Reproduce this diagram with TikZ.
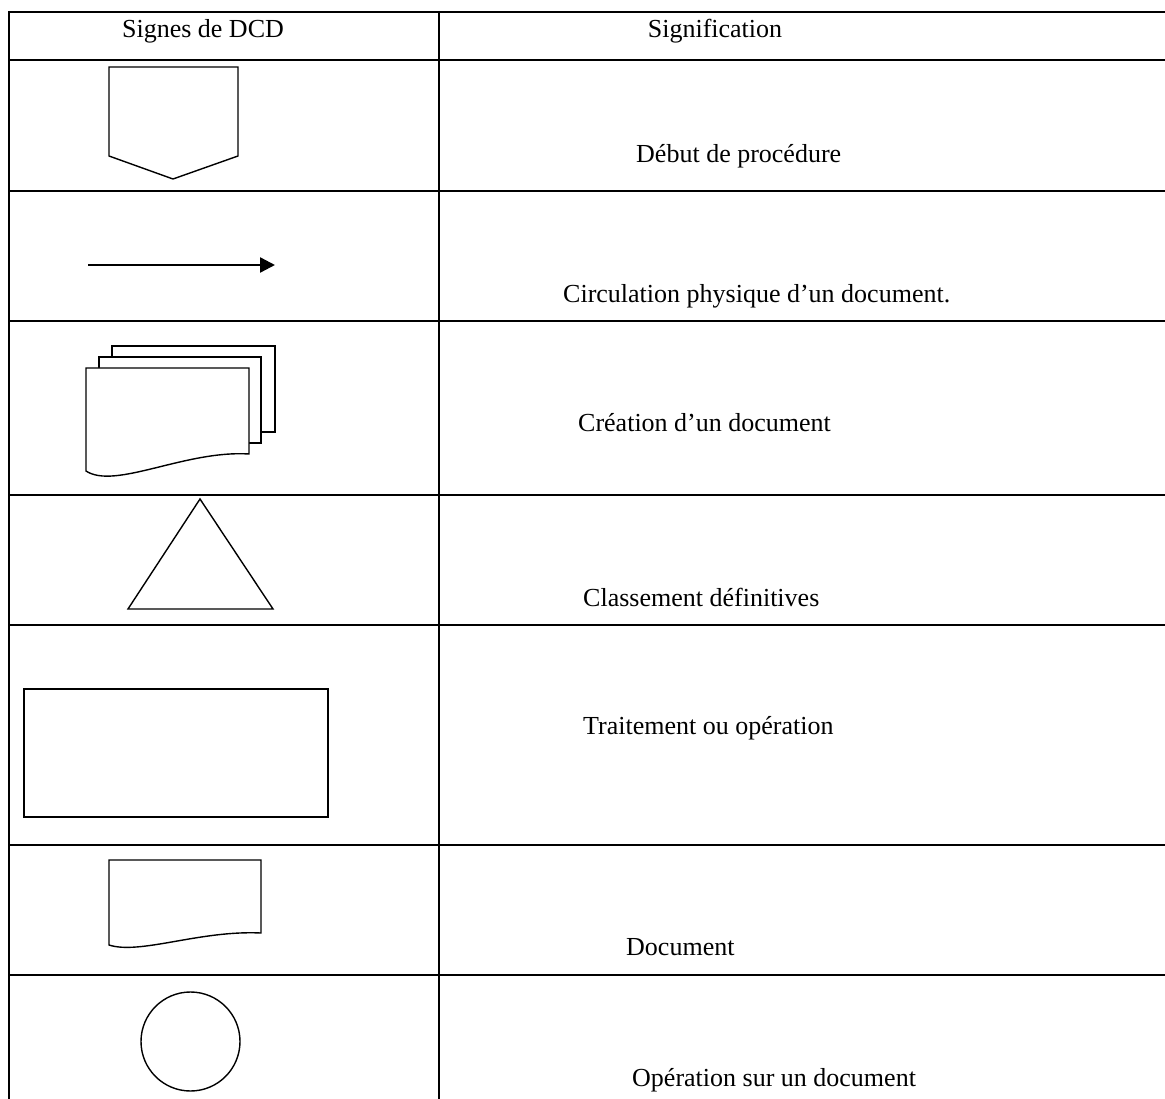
\documentclass[tikz,border=0pt]{standalone}
\usepackage{fontspec}
\setmainfont{Liberation Serif}
\usetikzlibrary{arrows.meta}
\begin{document}
\begin{tikzpicture}[x=1pt,y=-1pt,
  rule/.style={line width=2pt},
  symb/.style={line width=1.4pt, line join=miter},
  label/.style={anchor=west, inner sep=0pt, font=\fontsize{26}{30}\selectfont},
  head/.style={anchor=center, inner sep=0pt, font=\fontsize{26}{30}\selectfont}]
\useasboundingbox (0,0) rectangle (1165,1099);

% table grid (open on the right and at the bottom)
\foreach \yy in {12,60,191,321,495,625,845,975}
  \draw[rule] (8,\yy) -- (1165,\yy);
\draw[rule] (9,11) -- (9,1099);
\draw[rule] (439,11) -- (439,1099);

% header
\node[head] (h1) at (203,31) {Signes de DCD};
\node[head] (h2) at (715,31) {Signification};

% start of procedure
\draw[symb] (109,67) -- (238,67) -- (238,156) -- (173,179) -- (109,156) -- cycle;
\node[label] (t1) at (636,156) {Début de procédure};

% physical flow of a document
\coordinate (a0) at (88,265);
\coordinate (a1) at (275,265);
\draw[line width=2.4pt, -{Triangle[length=15pt,width=15pt]}] (a0) -- (a1);
\node[label] (t2) at (563,296) {Circulation physique d’un document.};

% stack of documents
\draw[symb, fill=white] (112,346) rectangle (275,432);
\draw[symb, fill=white] (99,357) rectangle (261,443);
\draw[symb, fill=white] (86,368) -- (249,368) -- (249,454)
  .. controls (185,450) and (115,490) .. (86,471) -- cycle;
\node[label] (t3) at (578,423) {Création d’un document};

% final filing
\draw[symb] (200,499) -- (273,609) -- (128,609) -- cycle;
\node[label] (t4) at (583,597) {Classement définitives};

% processing
\draw[symb] (24,689) rectangle (328,817);
\node[label] (t5) at (583,728) {Traitement ou opération};

% document
\draw[symb] (109,860) -- (261,860) -- (261,933)
  .. controls (200,930) and (140,955) .. (109,945) -- cycle;
\node[label] (t6) at (626,947) {Document};

% operation on a document
\draw[symb] (190.5,1041.5) circle[radius=49.5];
\node[label] (t7) at (632,1080) {Opération sur un document};
\end{tikzpicture}
\end{document}
